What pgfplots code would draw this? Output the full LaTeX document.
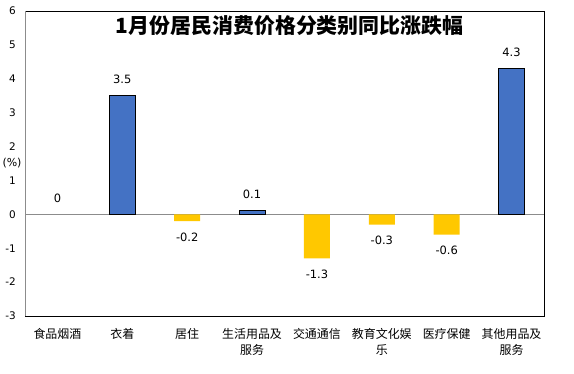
\documentclass[border=0pt]{standalone}
\usepackage{fontspec}
\usepackage{pgfplots}
\pgfplotsset{compat=1.18}
\setmainfont{DejaVu Sans}
\newfontfamily\cjk{Noto Sans CJK SC}
\definecolor{barblue}{HTML}{4472C4}
\definecolor{baryellow}{HTML}{FFC800}
\begin{document}
\begin{tikzpicture}
\useasboundingbox (0,0) rectangle (574bp,374bp);
\begin{axis}[
  at={(25bp,58bp)}, anchor=south west,
  scale only axis, width=519bp, height=305bp,
  xmin=-0.5, xmax=7.5, ymin=-3, ymax=6,
  ytick={-3,-2,-1,0,1,2,3,4,5,6},
  xtick={0,...,7},
  xticklabels={食品烟酒,衣着,居住,生活用品及\\服务,交通通信,教育文化娱\\乐,医疗保健,其他用品及\\服务},
  major tick length=0pt,
  xticklabel style={font=\cjk\fontsize{12}{16}\selectfont, align=center, anchor=north, inner sep=0pt, yshift=-12bp},
  yticklabel style={font=\fontsize{10.5}{12}\selectfont, anchor=east, inner sep=0pt, xshift=-9bp},
  /pgf/number format/assume math mode=true,
  axis line style={black, line width=0.9bp},
  extra y ticks={0}, extra y tick labels={},
  extra y tick style={grid=major, major grid style={gray!90, line width=1bp}},
  ybar, bar width=26bp, bar shift=0pt,
  clip=false,
]
\addplot[fill=barblue, draw=black, line width=0.9bp,
  nodes near coords,
  every node near coord/.append style={font=\fontsize{11.5}{12}\selectfont, anchor=base, yshift=12bp, inner sep=0pt}]
  coordinates {(1,3.5) (3,0.1) (7,4.3)};
\addplot[fill=none, draw=none,
  nodes near coords,
  every node near coord/.append style={font=\fontsize{11.5}{12}\selectfont, anchor=base, yshift=12bp, inner sep=0pt}]
  coordinates {(0,0)};
\addplot[fill=baryellow, draw=none,
  nodes near coords,
  every node near coord/.append style={font=\fontsize{11.5}{12}\selectfont, anchor=base, yshift=-20bp, inner sep=0pt}]
  coordinates {(2,-0.2) (4,-1.3) (5,-0.3) (6,-0.6)};
\draw[gray!90, line width=1bp] (rel axis cs:0,0) -- (rel axis cs:0,1);
\node[font=\fontsize{11}{12}\selectfont, inner sep=0pt] at ([xshift=-13bp]axis cs:-0.5,1.5) {(\%)};
\node[font=\cjk\bfseries\fontsize{21}{24}\selectfont, inner sep=0pt] at (rel axis cs:0.51,0.953) {1月份居民消费价格分类别同比涨跌幅};
\end{axis}
\end{tikzpicture}
\end{document}
